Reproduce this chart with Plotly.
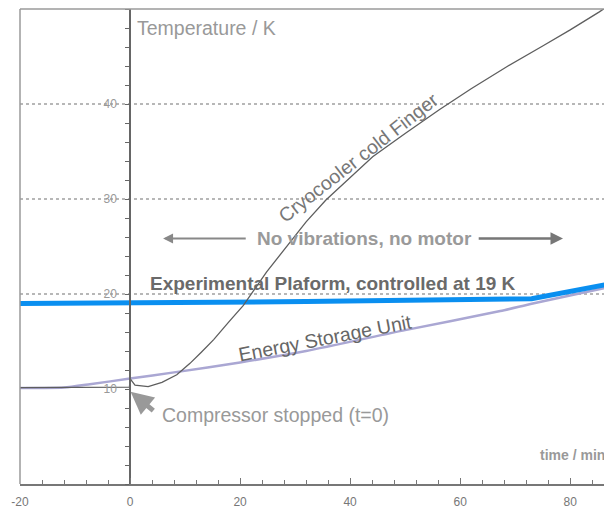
import plotly.graph_objects as go

# ---------------- data ----------------
cold_t = [-20, -10, -0.1, 0.0, 0.9, 3.3, 5.8, 8.5, 10.9, 13, 15.2, 18, 20.6, 24.8,
          27.3, 32, 35.6, 40, 44.1, 50, 56.2, 62, 68.4, 75, 80, 85.3, 87.6]
cold_T = [10.15, 10.15, 10.2, 11.1, 10.4, 10.25, 10.7, 11.5, 12.7, 13.9, 15.2, 17.1,
          18.8, 22.3, 24.1, 27.6, 29.9, 32.3, 34.45, 36.9, 39.4, 41.6, 43.9, 46.1, 47.8, 49.7, 50.6]

esu_t = [-20, -16, -12, -7.3, 0, 8, 20, 32, 50, 67.3, 73.2, 87.6]
esu_T = [10.1, 10.1, 10.15, 10.5, 11.1, 11.75, 12.8, 14.0, 16.2, 18.2, 19.0, 20.8]

plat_t = [-20, 0, 32, 73, 87.6]
plat_T = [19.0, 19.05, 19.2, 19.5, 21.1]

x_ticks = [-20, 0, 20, 40, 60, 80]
y_ticks = [10, 20, 30, 40]
grid_levels = [20, 30, 40]

X_RANGE = [-20, 87.6]
Y_RANGE = [0, 50]

FONT = "Liberation Sans, Arial, sans-serif"

fig = go.Figure()

fig.add_trace(go.Scatter(x=esu_t, y=esu_T, mode="lines", line_shape="spline",
                         line=dict(color="#aaa7d3", width=2.5, smoothing=0.6), hoverinfo="skip"))
fig.add_trace(go.Scatter(x=plat_t, y=plat_T, mode="lines",
                         line=dict(color="#0a8ff0", width=5), hoverinfo="skip"))
fig.add_trace(go.Scatter(x=cold_t, y=cold_T, mode="lines",
                         line=dict(color="#5e5e5e", width=1.3), hoverinfo="skip"))

shapes = []
for g in grid_levels:
    shapes.append(dict(type="line", xref="paper", yref="y", x0=0, x1=1, y0=g, y1=g,
                       line=dict(color="#707070", width=1.2, dash="dot"), layer="below"))
# frame (left + top)
shapes.append(dict(type="line", xref="paper", yref="paper", x0=0, x1=0, y0=0, y1=1,
                   line=dict(color="#9a9a9a", width=1.5)))
shapes.append(dict(type="line", xref="paper", yref="paper", x0=0, x1=1, y0=1, y1=1,
                   line=dict(color="#9a9a9a", width=1.5)))

annotations = [
    dict(x=0.9, y=48.0, text="Temperature / K", showarrow=False, xanchor="left",
         font=dict(size=19.5, color="#999999")),
    dict(x=42.7, y=25.8, text="<b>No vibrations, no motor</b>", showarrow=False,
         font=dict(size=19, color="#9a9a9a")),
    dict(x=6.0, y=25.85, ax=21.3, ay=25.85, axref="x", ayref="y", text="", showarrow=True,
         arrowhead=2, arrowsize=1, arrowwidth=2, arrowcolor="#888888"),
    dict(x=78.7, y=25.85, ax=63.1, ay=25.85, axref="x", ayref="y", text="", showarrow=True,
         arrowhead=2, arrowsize=1, arrowwidth=2.5, arrowcolor="#777777"),
    dict(x=3.3, y=21.15, text="<b>Experimental Plaform, controlled at 19 K</b>",
         showarrow=False, xanchor="left", font=dict(size=19, color="#6a6a6a")),
    dict(x=35.4, y=15.4, text="Energy Storage Unit", showarrow=False, textangle=-11,
         font=dict(size=19.5, color="#666666")),
    dict(x=41.6, y=34.4, text="Cryocooler cold Finger", showarrow=False, textangle=-38,
         font=dict(size=19.5, color="#777777")),
    dict(x=5.45, y=7.3, text="Compressor stopped (t=0)", showarrow=False, xanchor="left",
         font=dict(size=19.5, color="#999999")),
    dict(x=0.1, y=9.7, ax=4.5, ay=7.6, axref="x", ayref="y", text="", showarrow=True,
         arrowhead=2, arrowsize=0.9, arrowwidth=5, arrowcolor="#999999"),
    dict(x=86.6, y=3.05, text="<b>time / min</b>", showarrow=False, xanchor="right",
         font=dict(size=14, color="#999999")),
]

# the page adds an 8px body margin, so the figure is sized/shifted to compensate
fig.update_layout(
    width=604, height=502,
    margin=dict(l=12, r=0, t=1, b=26),
    paper_bgcolor="white", plot_bgcolor="white",
    showlegend=False,
    font=dict(family=FONT),
    shapes=shapes,
    annotations=annotations,
    xaxis=dict(range=X_RANGE, tickvals=x_ticks, ticktext=[str(v) for v in x_ticks],
               showgrid=False, zeroline=False, showline=True, linecolor="#777777",
               linewidth=1.5, ticks="inside", ticklen=6, tickcolor="#777777", tickwidth=1.2,
               minor=dict(dtick=4, ticks="inside", ticklen=4, tickcolor="#777777", tickwidth=1),
               ticklabelstandoff=6,
               tickfont=dict(size=12, color="#777777"), fixedrange=True),
    yaxis=dict(range=Y_RANGE, anchor="free",
               position=(0 - X_RANGE[0]) / (X_RANGE[1] - X_RANGE[0]),
               tickvals=y_ticks, ticktext=[str(v) for v in y_ticks],
               showgrid=False, zeroline=False, showline=True, linecolor="#666666",
               linewidth=1.5, ticks="outside", ticklen=4, tickcolor="#666666", tickwidth=1,
               minor=dict(dtick=2, ticks="outside", ticklen=4, tickcolor="#666666", tickwidth=1),
               ticklabelstandoff=6,
               tickfont=dict(size=12, color="#999999"), fixedrange=True),
)

fig.write_html("out.html")
